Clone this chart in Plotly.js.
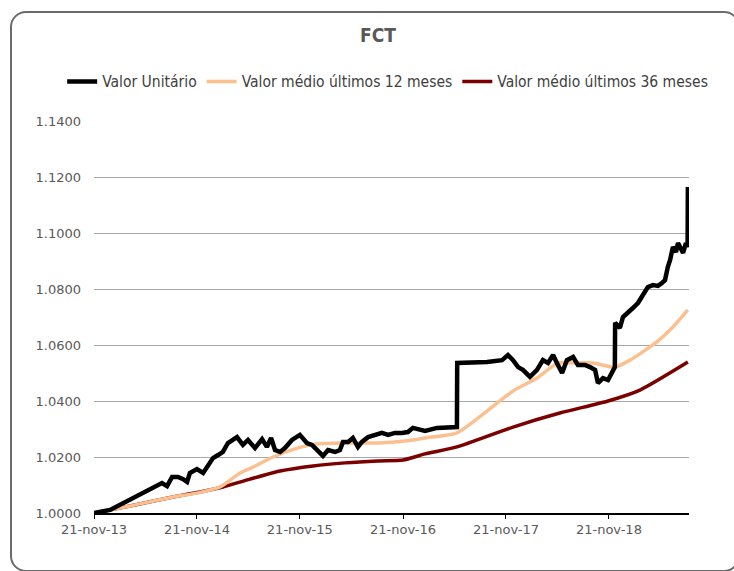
<!DOCTYPE html>
<html>
<head>
<meta charset="utf-8">
<script src="https://cdn.plot.ly/plotly-3.0.1.min.js"></script>
<style>
  html, body { margin: 0; padding: 0; background: #ffffff; }
  #wrap { position: relative; width: 734px; height: 571px; overflow: hidden; }
  #frame { position: absolute; left: 10px; top: 11px; width: 726px; height: 557px;
           border: 2px solid #6b6b6b; border-radius: 16px; background: #ffffff; }
  #chart { position: absolute; left: 0; top: 0; width: 734px; height: 571px; }
</style>
</head>
<body>
<div id="wrap">
  <div id="frame"></div>
  <div id="chart"></div>
</div>
<script>
// Valor Unitário
var unitDates = [
  "2013-11-21","2014-01-17","2014-07-20","2014-08-07","2014-08-25","2014-09-15","2014-10-03","2014-10-17",
  "2014-10-27","2014-11-21","2014-12-13","2014-12-30","2015-01-17","2015-02-04","2015-02-21","2015-03-11",
  "2015-04-12","2015-05-03","2015-05-21","2015-06-15","2015-07-10","2015-07-27","2015-08-11","2015-08-25",
  "2015-09-12","2015-09-29","2015-10-24","2015-11-21","2015-12-16","2016-01-03","2016-01-21","2016-02-11",
  "2016-02-29","2016-03-25","2016-04-11","2016-04-22","2016-05-10","2016-05-27","2016-06-14","2016-06-28",
  "2016-07-20","2016-08-13","2016-09-07","2016-09-29","2016-10-23","2016-11-17","2016-12-08","2016-12-26",
  "2017-01-20","2017-02-07","2017-03-21","2017-05-31","2017-06-01","2017-07-16","2017-09-15","2017-11-07",
  "2017-11-28","2017-12-16","2018-01-03","2018-01-20","2018-02-14","2018-03-11","2018-04-01","2018-04-19",
  "2018-05-07","2018-05-24","2018-06-08","2018-06-25","2018-07-17","2018-08-03","2018-08-28","2018-09-15",
  "2018-10-03","2018-10-13","2018-10-31","2018-11-18","2018-12-02","2018-12-12","2018-12-13","2018-12-30",
  "2019-01-10","2019-01-28","2019-02-14","2019-03-04","2019-03-22","2019-04-08","2019-04-26","2019-05-14",
  "2019-05-28","2019-06-08","2019-06-18","2019-06-26","2019-07-06","2019-07-17","2019-07-24","2019-08-11",
  "2019-08-21","2019-08-27","2019-08-28"
];
var unitValues = [
  1.0000,1.0011,1.0107,1.0096,1.0129,1.0129,1.0121,1.0111,
  1.0143,1.0157,1.0143,1.0171,1.0196,1.0207,1.0218,1.0250,
  1.0271,1.0243,1.0261,1.0232,1.0264,1.0236,1.0268,1.0225,
  1.0218,1.0232,1.0261,1.0279,1.0250,1.0243,1.0225,1.0204,
  1.0225,1.0218,1.0225,1.0254,1.0254,1.0268,1.0236,1.0254,
  1.0271,1.0279,1.0286,1.0279,1.0286,1.0286,1.0289,1.0304,
  1.0296,1.0293,1.0304,1.0307,1.0536,1.0536,1.0539,1.0546,
  1.0564,1.0546,1.0521,1.0511,1.0486,1.0511,1.0546,1.0536,
  1.0564,1.0529,1.0500,1.0546,1.0557,1.0529,1.0529,1.0521,
  1.0511,1.0464,1.0482,1.0475,1.0504,1.0521,1.0679,1.0661,
  1.0700,1.0714,1.0732,1.0750,1.0779,1.0807,1.0814,1.0811,
  1.0821,1.0832,1.0879,1.0904,1.0950,1.0932,1.0964,1.0929,
  1.0964,1.0950,1.1164
];

// Valor médio últimos 12 meses
var avg12Dates = [
  "2013-11-21","2014-03-29","2014-08-28","2014-11-21","2015-02-11","2015-04-23","2015-06-08","2015-08-18",
  "2015-11-04","2016-01-14","2016-04-29","2016-08-24","2016-11-28","2017-02-07","2017-05-31","2017-09-15",
  "2017-12-16","2018-03-11","2018-05-24","2018-07-24","2018-09-25","2018-12-12","2019-02-04","2019-05-10",
  "2019-07-06","2019-08-28"
];
var avg12Values = [
  1.0000,1.0025,1.0057,1.0071,1.0093,1.0143,1.0164,1.0200,
  1.0229,1.0246,1.0250,1.0250,1.0257,1.0268,1.0286,1.0364,
  1.0436,1.0482,1.0536,1.0536,1.0536,1.0521,1.0546,1.0611,
  1.0664,1.0725
];

// Valor médio últimos 36 meses
var avg36Dates = [
  "2013-11-21","2014-03-29","2014-08-28","2014-12-02","2015-02-21","2015-05-28","2015-09-12","2016-01-07",
  "2016-04-29","2016-08-24","2016-11-21","2017-02-07","2017-05-31","2017-12-16","2018-05-31","2018-11-18",
  "2019-03-11","2019-08-28"
];
var avg36Values = [
  1.0000,1.0025,1.0057,1.0075,1.0093,1.0121,1.0150,1.0168,
  1.0179,1.0186,1.0189,1.0211,1.0236,1.0307,1.0357,1.0400,
  1.0439,1.0539
];

var seriesNames = ["Valor Unitário", "Valor médio últimos 12 meses", "Valor médio últimos 36 meses"];
var xTickVals = ["2013-11-21","2014-11-21","2015-11-21","2016-11-21","2017-11-21","2018-11-21"];
var xTickText = ["21-nov-13","21-nov-14","21-nov-15","21-nov-16","21-nov-17","21-nov-18"];
var yTickVals = [1.00, 1.02, 1.04, 1.06, 1.08, 1.10, 1.12, 1.14];
var yTickText = ["1.0000","1.0200","1.0400","1.0600","1.0800","1.1000","1.1200","1.1400"];

var traces = [
  {x: unitDates, y: unitValues, name: seriesNames[0], type: "scatter", mode: "lines",
   line: {color: "#000000", width: 4.5}},
  {x: avg12Dates, y: avg12Values, name: seriesNames[1], type: "scatter", mode: "lines",
   line: {color: "#FAC090", width: 3.5, shape: "spline", smoothing: 0.6}},
  {x: avg36Dates, y: avg36Values, name: seriesNames[2], type: "scatter", mode: "lines",
   line: {color: "#7B0000", width: 3.5, shape: "spline", smoothing: 0.6}}
];
// draw order: averages below the unit value line
var ordered = [traces[2], traces[1], traces[0]];
ordered[0].legendrank = 3; ordered[1].legendrank = 2; ordered[2].legendrank = 1;

var layout = {
  width: 734, height: 571,
  paper_bgcolor: "rgba(0,0,0,0)", plot_bgcolor: "rgba(0,0,0,0)",
  margin: {l: 94, r: 45, t: 121, b: 58},
  font: {family: "DejaVu Sans Condensed, DejaVu Sans, sans-serif", color: "#595959", size: 13},
  title: {text: "<b>FCT</b>", x: 0.515, xanchor: "center", y: 0.938, yanchor: "middle",
          font: {family: "DejaVu Sans Condensed, DejaVu Sans, sans-serif", size: 19, color: "#595959"}},
  showlegend: true,
  legend: {orientation: "h", x: -0.0535, xanchor: "left", y: 1.1, yanchor: "middle",
           font: {family: "DejaVu Sans Condensed, DejaVu Sans, sans-serif", size: 15.5, color: "#404040"},
           itemwidth: 30, traceorder: "normal", bgcolor: "rgba(0,0,0,0)"},
  xaxis: {type: "date", range: ["2013-11-21", "2019-09-01"],
          tickmode: "array", tickvals: xTickVals, ticktext: xTickText,
          showgrid: false, zeroline: false, showline: true, linecolor: "#000000", linewidth: 1.5,
          ticks: "outside", ticklen: 4, tickcolor: "#000000", tickwidth: 1,
          tickfont: {family: "DejaVu Sans, sans-serif", size: 13, color: "#595959"}},
  yaxis: {range: [1.0, 1.14], tickmode: "array", tickvals: yTickVals, ticktext: yTickText,
          showgrid: true, gridcolor: "#a6a6a6", gridwidth: 1, zeroline: false, showline: false,
          ticks: "", ticklabelstandoff: 12,
          tickfont: {family: "DejaVu Sans, sans-serif", size: 13, color: "#595959"}}
};

Plotly.newPlot("chart", ordered, layout, {displayModeBar: false, staticPlot: true});
</script>
</body>
</html>
